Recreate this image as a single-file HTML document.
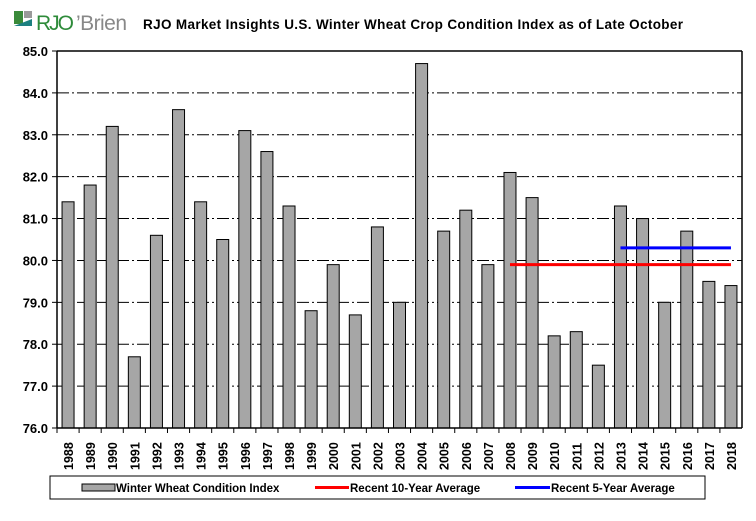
<!DOCTYPE html>
<html><head><meta charset="utf-8"><style>
body{margin:0;background:#fff;font-family:"Liberation Sans",Arial,sans-serif}
svg text{font-family:"Liberation Sans",Arial,sans-serif}
</style></head><body>
<svg id="c" width="756" height="516" xmlns="http://www.w3.org/2000/svg">
<g>
<rect x="14" y="11" width="9" height="13" fill="#3a8a3a"/>
<rect x="24" y="11" width="8" height="7" fill="#9a9a9a"/>
<polygon points="14,26 32,26 32,19" fill="#1c8080"/>
<text x="36" y="30" font-size="21" fill="#2e8b3a" font-family="Liberation Serif,serif" textLength="38">RJO</text>
<text x="76" y="30" font-size="21" fill="#888" font-family="Liberation Serif,serif" textLength="51">’Brien</text>
</g>
<text x="143" y="29" font-size="13.5" font-weight="bold" textLength="540">RJO Market Insights U.S. Winter Wheat Crop Condition Index as of Late October</text>
<g id="grid"></g><g id="bars"></g><g id="avg"></g><g id="axes"></g>
<g>
<rect x="50" y="476" width="655" height="23" fill="#fff" stroke="#000"/>
<rect x="82" y="484" width="33" height="7" fill="#a6a6a6" stroke="#000"/>
<text x="116" y="492" font-size="11.5" font-weight="bold">Winter Wheat Condition Index</text>
<line x1="315" y1="487.5" x2="349" y2="487.5" stroke="red" stroke-width="3"/>
<text x="350" y="492" font-size="11.5" font-weight="bold">Recent 10-Year Average</text>
<line x1="515" y1="487.5" x2="550" y2="487.5" stroke="blue" stroke-width="3"/>
<text x="551" y="492" font-size="11.5" font-weight="bold">Recent 5-Year Average</text>
</g>
</svg>
<script>
const years=[1988,1989,1990,1991,1992,1993,1994,1995,1996,1997,1998,1999,2000,2001,2002,2003,2004,2005,2006,2007,2008,2009,2010,2011,2012,2013,2014,2015,2016,2017,2018];
const values=[81.4,81.8,83.2,77.7,80.6,83.6,81.4,80.5,83.1,82.6,81.3,78.8,79.9,78.7,80.8,79.0,84.7,80.7,81.2,79.9,82.1,81.5,78.2,78.3,77.5,81.3,81.0,79.0,80.7,79.5,79.4];
const yTicks=[76,77,78,79,80,81,82,83,84,85];
const avg10=79.9, avg10Start=2008, avg10End=2018;
const avg5=80.3, avg5Start=2013, avg5End=2018;
const L=57,R=742,T=51,B=428,ymin=76,ymax=85;
const ns="http://www.w3.org/2000/svg";
const bw=(R-L)/years.length;
const y=v=>B-(v-ymin)/(ymax-ymin)*(B-T);
const xc=yr=>L+bw*(years.indexOf(yr)+0.5);
function mk(t,a,p){const e=document.createElementNS(ns,t);for(const k in a)e.setAttribute(k,a[k]);p.appendChild(e);return e;}
const G=document.getElementById('grid'),Bs=document.getElementById('bars'),A=document.getElementById('avg'),X=document.getElementById('axes');
yTicks.forEach(v=>{
 if(v>ymin&&v<ymax){const l=mk('line',{x1:L,x2:R,y1:y(v),y2:y(v),stroke:'#000','stroke-dasharray':'12,3,2,3'},G);
 
 }
 mk('line',{x1:L-5,x2:L,y1:y(v),y2:y(v),stroke:'#000'},X);
 const t=mk('text',{x:L-9,y:y(v)+5,'font-size':13,'font-weight':'bold','text-anchor':'end'},X);t.textContent=v.toFixed(1);
 
 
});
years.forEach((yr,i)=>{
 const r=mk('rect',{x:xc(yr)-6,y:y(values[i]),width:12,height:B-y(values[i]),fill:'#a6a6a6',stroke:'#000','stroke-width':1},Bs);
 
 
 mk('line',{x1:L+bw*i,x2:L+bw*i,y1:B,y2:B+5,stroke:'#000'},X);
 const t=mk('text',{transform:`translate(${xc(yr)+5},${B+42}) rotate(-90)`,'font-size':12.5,'font-weight':'bold'},X);t.textContent=yr;
 
 
});
const a1=mk('line',{x1:xc(avg10Start),x2:xc(avg10End),y1:y(avg10),y2:y(avg10),stroke:'red','stroke-width':3},A);


const a2=mk('line',{x1:xc(avg5Start),x2:xc(avg5End),y1:y(avg5),y2:y(avg5),stroke:'blue','stroke-width':3},A);


mk('line',{x1:L,x2:L,y1:T,y2:B,stroke:'#000','stroke-width':1.5},X);
mk('line',{x1:L,x2:R,y1:B,y2:B,stroke:'#000','stroke-width':1.5},X);
mk('line',{x1:R,x2:R,y1:T,y2:B,stroke:'#000','stroke-width':1.5},X);
mk('line',{x1:L,x2:R,y1:T,y2:T,stroke:'#000','stroke-width':1.5},X);
</script>
</body></html>
